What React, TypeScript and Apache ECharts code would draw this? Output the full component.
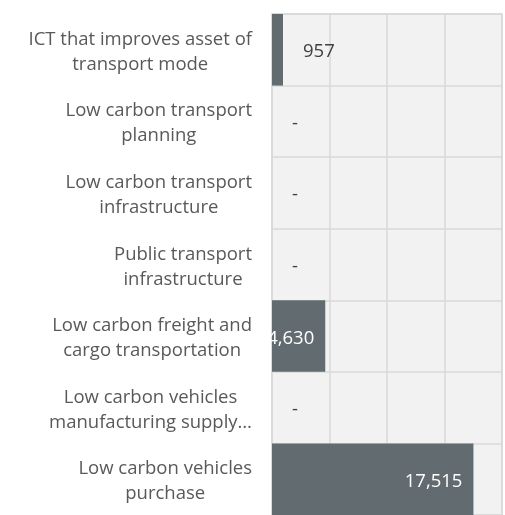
import React, { useEffect, useRef } from "react";
import * as echarts from "echarts";

const categories = [
  "ICT that improves asset of\ntransport mode",
  "Low carbon transport\nplanning",
  "Low carbon transport\ninfrastructure",
  "Public transport\ninfrastructure",
  "Low carbon freight and\ncargo transportation",
  "Low carbon vehicles\nmanufacturing supply…",
  "Low carbon vehicles\npurchase",
];
const values = [957, 0, 0, 0, 4630, 0, 17515];
const axisMax = 20000;
const axisInterval = 5000;

const fmt = (v: number) => (v === 0 ? "-" : v.toLocaleString("en-US"));

export default function App() {
  const ref = useRef<HTMLDivElement>(null);
  useEffect(() => {
    if (!ref.current) return;
    const chart = echarts.init(ref.current, undefined, { renderer: "svg" });
    const font = "Open Sans";
    const data = values.map((v) => {
      const big = v > 2000;
      return {
        value: v,
        label: big
          ? { position: "insideRight", distance: 11, color: "#ffffff" }
          : { position: "right", distance: 20, color: "#404040" },
      };
    });
    chart.setOption({
      animation: false,
      grid: {
        left: 272,
        right: 3,
        top: 14,
        bottom: 0,
        show: true,
        backgroundColor: "#f2f2f2",
        borderColor: "#d9d9d9",
        borderWidth: 1.5,
      },
      xAxis: {
        type: "value",
        min: 0,
        max: axisMax,
        interval: axisInterval,
        axisLabel: { show: false },
        axisLine: { show: false },
        axisTick: { show: false },
        splitLine: { show: true, lineStyle: { color: "#d9d9d9", width: 1.5 } },
      },
      yAxis: {
        type: "category",
        inverse: true,
        data: categories,
        axisLine: { show: false },
        axisTick: { show: false },
        splitLine: { show: true, lineStyle: { color: "#d9d9d9", width: 1.5 } },
        axisLabel: {
          margin: 20,
          align: "right",
          formatter: (v: string) =>
            v
              .split("\n")
              .map((l) => `{c|${l}}`)
              .join("\n"),
          rich: {
            c: {
              align: "center",
              fontFamily: font,
              fontSize: 18.5,
              lineHeight: 25,
              color: "#595959",
            },
          },
        },
      },
      series: [
        {
          type: "bar",
          data,
          barCategoryGap: "0%",
          itemStyle: { color: "#616b70" },
          label: {
            show: true,
            fontFamily: font,
            fontSize: 18.5,
            formatter: (p: any) => fmt(p.value),
          },
        },
      ],
    });
    return () => chart.dispose();
  }, []);
  return (
    <div
      ref={ref}
      style={{ position: "fixed", left: 0, top: 0, width: 505, height: 515 }}
    />
  );
}
